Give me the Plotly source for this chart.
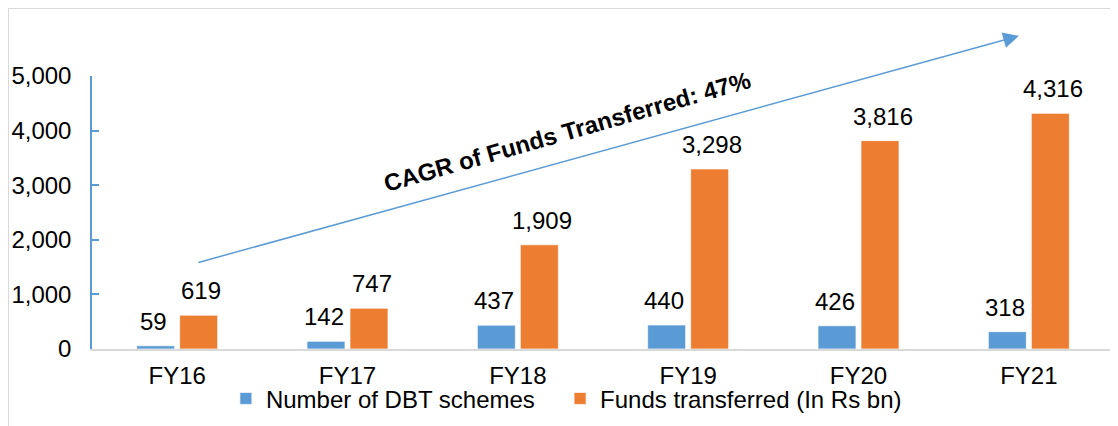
import plotly.graph_objects as go

categories = ["FY16", "FY17", "FY18", "FY19", "FY20", "FY21"]
dbt_schemes = [59, 142, 437, 440, 426, 318]
funds_transferred = [619, 747, 1909, 3298, 3816, 4316]
series_names = ["Number of DBT schemes", "Funds transferred (In Rs bn)"]
y_ticks = [0, 1000, 2000, 3000, 4000, 5000]
cagr_text = "CAGR of Funds Transferred: 47%"

BLUE = "#5b9bd5"
ORANGE = "#ed7d31"
FONT = "Arial, Liberation Sans, sans-serif"
FS = 24

# plot area geometry (figure pixels; the page adds an 8px body margin)
L, T, PW, PH = 84, 68, 1022, 272.6

fig = go.Figure()
fig.add_trace(go.Bar(x=categories, y=dbt_schemes, name=series_names[0], legend="legend",
                     marker=dict(color=BLUE, line=dict(color="rgba(255,255,255,0.7)", width=1))))
fig.add_trace(go.Bar(x=categories, y=funds_transferred, name=series_names[1], legend="legend2",
                     marker=dict(color=ORANGE, line=dict(color="rgba(255,255,255,0.7)", width=1))))

annotations = []
for series, shift in ((dbt_schemes, -24), (funds_transferred, 24)):
    for c, v in zip(categories, series):
        annotations.append(dict(x=c, y=v, xref="x", yref="y", text=f"{v:,}",
                                showarrow=False, xshift=shift, yshift=9,
                                yanchor="bottom", font=dict(size=FS, color="#000000", family=FONT)))

# CAGR arrow
annotations.append(dict(x=0.907, y=1.147, xref="paper", yref="paper", text="",
                        showarrow=True, ax=-822, ay=227, axref="pixel", ayref="pixel",
                        arrowhead=2, arrowsize=2.1, arrowwidth=1.5, arrowcolor=BLUE))
annotations.append(dict(x=475 / PW, y=(PH - 55) / PH, xref="paper", yref="paper",
                        xanchor="center", yanchor="middle",
                        text=f"<b>{cagr_text}</b>", showarrow=False, textangle=-16,
                        font=dict(size=FS, color="#000000", family=FONT)))

leg_common = dict(orientation="h", xanchor="left", y=-0.1, yanchor="top",
                  font=dict(size=FS, family=FONT, color="#000000"), bgcolor="rgba(0,0,0,0)")

fig.update_layout(
    width=1118, height=426,
    margin=dict(l=L, r=1118 - L - PW, t=T, b=426 - T - PH, autoexpand=False),
    paper_bgcolor="white", plot_bgcolor="white",
    barmode="group", bargap=0.495, bargroupgap=0.116,
    font=dict(family=FONT, size=FS, color="#000000"),
    annotations=annotations,
    showlegend=True,
    legend=dict(x=0.131, **leg_common),
    legend2=dict(x=0.458, **leg_common),
    shapes=[dict(type="rect", xref="paper", yref="paper",
                 x0=-L / PW, x1=1.2, y0=-0.6, y1=(PH + T) / PH,
                 line=dict(color="#d9d9d9", width=2), fillcolor="rgba(0,0,0,0)", layer="below")],
)
fig.update_xaxes(showline=True, linecolor="#d9d9d9", linewidth=2, ticks="", automargin=False,
                 showgrid=False, tickfont=dict(size=FS, family=FONT), ticklabelstandoff=4)
fig.update_yaxes(range=[0, 5000], tickvals=y_ticks, tickformat=",", showgrid=False, automargin=False,
                 showline=True, linecolor=BLUE, linewidth=1.5, ticks="inside", ticklen=7,
                 tickcolor=BLUE, tickwidth=1.5, zeroline=False,
                 tickfont=dict(size=FS, family=FONT), ticklabelstandoff=14)

fig.write_html("out.html")
